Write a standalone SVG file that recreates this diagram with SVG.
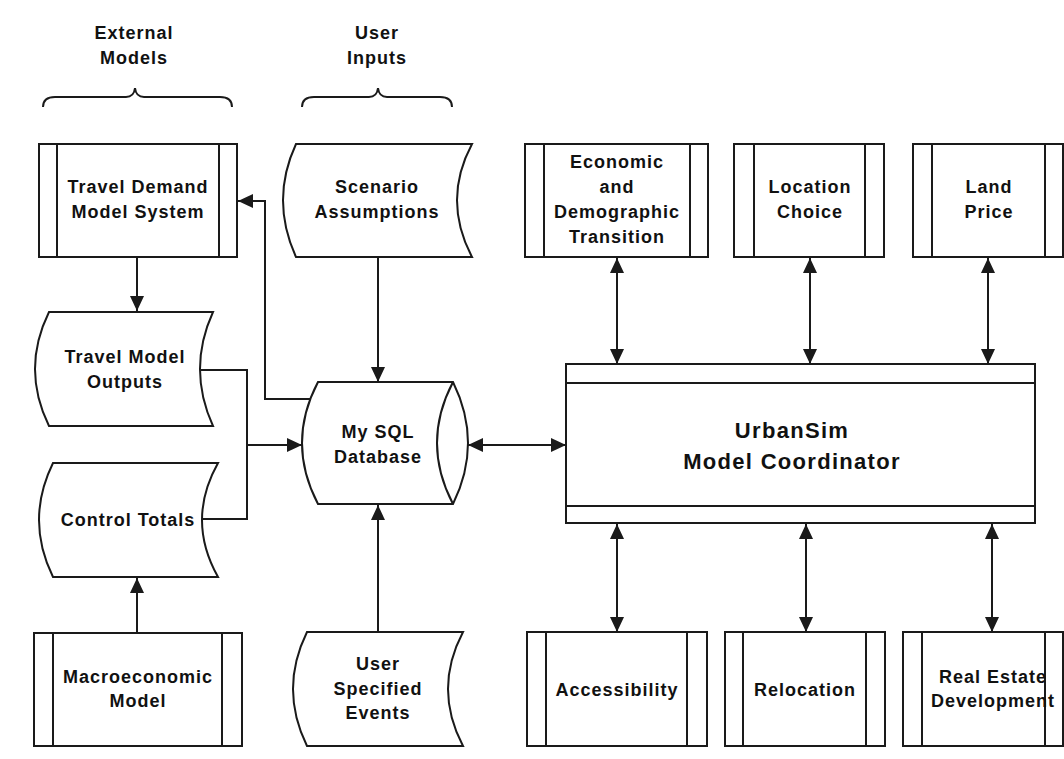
<svg xmlns="http://www.w3.org/2000/svg" width="1064" height="759" viewBox="0 0 1064 759">
<defs>
<style>
.s{fill:#fff;stroke:#1a1a1a;stroke-width:2}
.l{fill:none;stroke:#1a1a1a;stroke-width:2}
.c{fill:none;stroke:#1a1a1a;stroke-width:2}
.t{font-family:"Liberation Sans",Arial,sans-serif;font-weight:bold;font-size:18px;fill:#111;text-anchor:middle;letter-spacing:1px}
.big{font-size:22px;letter-spacing:1.3px}
</style>
<marker id="ah" markerUnits="userSpaceOnUse" markerWidth="16" markerHeight="14" refX="15" refY="7" orient="auto-start-reverse" viewBox="0 0 16 14">
<path d="M0,0 L15,7 L0,14 Z" fill="#1a1a1a"/>
</marker>
</defs>
<rect width="1064" height="759" fill="#fff"/>

<g id="headers">
<text class="t" x="134" y="39">External</text>
<text class="t" x="134" y="64">Models</text>
<path class="l" d="M43,107 Q43,97 55,97 L126,97 Q134,97 135,88 Q136,97 144,97 L220,97 Q232,97 232,107"/>
<text class="t" x="377" y="39">User</text>
<text class="t" x="377" y="64">Inputs</text>
<path class="l" d="M302,107 Q302,97 314,97 L369,97 Q377,97 378,88 Q379,97 387,97 L440,97 Q452,97 452,107"/>
</g>

<g id="connectors">
<line class="c" x1="137" y1="257" x2="137" y2="311" marker-end="url(#ah)"/>
<line class="c" x1="137" y1="633" x2="137" y2="578" marker-end="url(#ah)"/>
<polyline class="c" points="200,370 247,370 247,519 202,519"/>
<line class="c" x1="247" y1="445" x2="302" y2="445" marker-end="url(#ah)"/>
<polyline class="c" points="310,399 265,399 265,201 238,201" marker-end="url(#ah)"/>
<line class="c" x1="378" y1="257" x2="378" y2="382" marker-end="url(#ah)"/>
<line class="c" x1="378" y1="632" x2="378" y2="505" marker-end="url(#ah)"/>
<line class="c" x1="468" y1="445" x2="566" y2="445" marker-start="url(#ah)" marker-end="url(#ah)"/>
<line class="c" x1="617" y1="258" x2="617" y2="364" marker-start="url(#ah)" marker-end="url(#ah)"/>
<line class="c" x1="810" y1="258" x2="810" y2="364" marker-start="url(#ah)" marker-end="url(#ah)"/>
<line class="c" x1="988" y1="258" x2="988" y2="364" marker-start="url(#ah)" marker-end="url(#ah)"/>
<line class="c" x1="617" y1="524" x2="617" y2="632" marker-start="url(#ah)" marker-end="url(#ah)"/>
<line class="c" x1="806" y1="524" x2="806" y2="632" marker-start="url(#ah)" marker-end="url(#ah)"/>
<line class="c" x1="992" y1="524" x2="992" y2="632" marker-start="url(#ah)" marker-end="url(#ah)"/>
</g>

<g id="travel-demand">
<rect class="s" x="39" y="144" width="198" height="113"/>
<line class="l" x1="57" y1="144" x2="57" y2="257"/>
<line class="l" x1="219" y1="144" x2="219" y2="257"/>
<text class="t" x="138" y="193">Travel Demand</text>
<text class="t" x="138" y="218">Model System</text>
</g>

<g id="travel-model-outputs">
<path class="s" d="M49,312 L213,312 Q187,369 213,426 L49,426 Q21,369 49,312 Z"/>
<text class="t" x="125" y="363">Travel Model</text>
<text class="t" x="125" y="388">Outputs</text>
</g>

<g id="control-totals">
<path class="s" d="M53,463 L218,463 Q186,520 218,577 L53,577 Q25,520 53,463 Z"/>
<text class="t" x="128" y="526">Control Totals</text>
</g>

<g id="macroeconomic">
<rect class="s" x="34" y="633" width="208" height="113"/>
<line class="l" x1="53" y1="633" x2="53" y2="746"/>
<line class="l" x1="222" y1="633" x2="222" y2="746"/>
<text class="t" x="138" y="683">Macroeconomic</text>
<text class="t" x="138" y="707">Model</text>
</g>

<g id="scenario">
<path class="s" d="M296,144 L472,144 Q442,200 472,257 L296,257 Q270,200 296,144 Z"/>
<text class="t" x="377" y="193">Scenario</text>
<text class="t" x="377" y="218">Assumptions</text>
</g>

<g id="mysql">
<path class="s" d="M318,382 L453,382 Q483,443 453,504 L318,504 Q286,443 318,382 Z"/>
<path class="l" d="M453,382 Q421,443 453,504"/>
<text class="t" x="378" y="438">My SQL</text>
<text class="t" x="378" y="463">Database</text>
</g>

<g id="user-events">
<path class="s" d="M307,632 L463,632 Q433,689 463,746 L307,746 Q279,689 307,632 Z"/>
<text class="t" x="378" y="670">User</text>
<text class="t" x="378" y="695">Specified</text>
<text class="t" x="378" y="719">Events</text>
</g>

<g id="urbansim">
<rect class="s" x="566" y="364" width="469" height="159"/>
<line class="l" x1="566" y1="383" x2="1035" y2="383"/>
<line class="l" x1="566" y1="506" x2="1035" y2="506"/>
<text class="t big" x="792" y="438">UrbanSim</text>
<text class="t big" x="792" y="469">Model Coordinator</text>
</g>

<g id="economic">
<rect class="s" x="525" y="144" width="183" height="113"/>
<line class="l" x1="544" y1="144" x2="544" y2="257"/>
<line class="l" x1="690" y1="144" x2="690" y2="257"/>
<text class="t" x="617" y="168">Economic</text>
<text class="t" x="617" y="193">and</text>
<text class="t" x="617" y="218">Demographic</text>
<text class="t" x="617" y="243">Transition</text>
</g>

<g id="location-choice">
<rect class="s" x="734" y="144" width="150" height="113"/>
<line class="l" x1="754" y1="144" x2="754" y2="257"/>
<line class="l" x1="865" y1="144" x2="865" y2="257"/>
<text class="t" x="810" y="193">Location</text>
<text class="t" x="810" y="218">Choice</text>
</g>

<g id="land-price">
<rect class="s" x="913" y="144" width="150" height="113"/>
<line class="l" x1="932" y1="144" x2="932" y2="257"/>
<line class="l" x1="1045" y1="144" x2="1045" y2="257"/>
<text class="t" x="989" y="193">Land</text>
<text class="t" x="989" y="218">Price</text>
</g>

<g id="accessibility">
<rect class="s" x="527" y="632" width="180" height="114"/>
<line class="l" x1="546" y1="632" x2="546" y2="746"/>
<line class="l" x1="687" y1="632" x2="687" y2="746"/>
<text class="t" x="617" y="696">Accessibility</text>
</g>

<g id="relocation">
<rect class="s" x="725" y="632" width="160" height="114"/>
<line class="l" x1="743" y1="632" x2="743" y2="746"/>
<line class="l" x1="866" y1="632" x2="866" y2="746"/>
<text class="t" x="805" y="696">Relocation</text>
</g>

<g id="real-estate">
<rect class="s" x="903" y="632" width="160" height="114"/>
<line class="l" x1="922" y1="632" x2="922" y2="746"/>
<line class="l" x1="1045" y1="632" x2="1045" y2="746"/>
<text class="t" x="993" y="683">Real Estate</text>
<text class="t" x="993" y="707">Development</text>
</g>
</svg>
